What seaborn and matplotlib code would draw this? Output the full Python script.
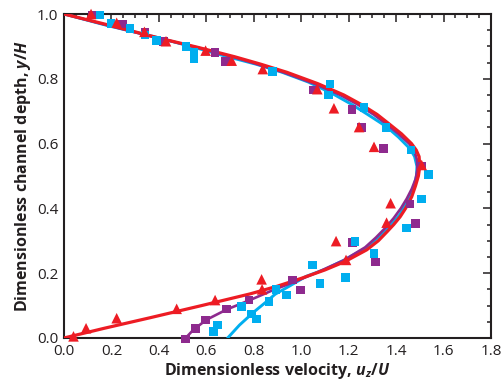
import numpy as np
import pandas as pd
import seaborn as sns
import matplotlib.pyplot as plt
from matplotlib.ticker import MultipleLocator

# measured points (x = u_z/U, y = y/H)
red_x = [0.04, 0.093, 0.222, 0.475, 0.637, 0.833, 0.835, 1.189, 1.147, 1.360, 1.377, 1.508,
         1.307, 1.244, 1.138, 1.068, 0.838, 0.707, 0.597, 0.430, 0.339, 0.222, 0.114]
red_y = [0.005, 0.03, 0.061, 0.09, 0.117, 0.181, 0.150, 0.241, 0.299, 0.356, 0.416, 0.534,
         0.590, 0.651, 0.709, 0.768, 0.830, 0.856, 0.887, 0.916, 0.945, 0.973, 1.0]

purple_x = [0.513, 0.555, 0.597, 0.686, 0.78, 0.964, 0.998, 1.217, 1.314, 1.483, 1.459, 1.508,
            1.346, 1.255, 1.214, 1.051, 0.682, 0.637, 0.419, 0.342, 0.247, 0.119]
purple_y = [-0.003, 0.03, 0.056, 0.089, 0.117, 0.179, 0.148, 0.294, 0.234, 0.354, 0.413, 0.531,
            0.585, 0.649, 0.706, 0.765, 0.853, 0.881, 0.915, 0.945, 0.969, 0.997]

cyan_x = [0.630, 0.648, 0.749, 0.791, 0.812, 0.864, 0.894, 0.939, 1.048, 1.079, 1.186, 1.227,
          1.307, 1.445, 1.508, 1.536, 1.462, 1.358, 1.265, 1.114, 1.121, 0.878, 0.548, 0.548,
          0.514, 0.391, 0.342, 0.278, 0.198, 0.152]
cyan_y = [0.02, 0.04, 0.097, 0.074, 0.058, 0.112, 0.150, 0.133, 0.225, 0.169, 0.186, 0.297,
          0.261, 0.339, 0.429, 0.505, 0.580, 0.649, 0.712, 0.750, 0.784, 0.822, 0.861, 0.881,
          0.899, 0.918, 0.935, 0.956, 0.971, 0.997]

# fitted profiles
red_fit_y = [0.0, 0.03, 0.062, 0.10, 0.136, 0.16, 0.184, 0.21, 0.236, 0.272, 0.30, 0.328, 0.35,
             0.374, 0.40, 0.436, 0.47, 0.50, 0.53, 0.56, 0.58, 0.60, 0.63, 0.66, 0.69, 0.72,
             0.75, 0.785, 0.82, 0.845, 0.868, 0.897, 0.925, 0.962, 1.0]
red_fit_x = [0.0, 0.17, 0.36, 0.58, 0.784, 0.90, 1.0, 1.10, 1.185, 1.276, 1.325, 1.362, 1.39,
             1.417, 1.44, 1.466, 1.482, 1.494, 1.50, 1.497, 1.485, 1.465, 1.423, 1.372, 1.32,
             1.255, 1.18, 1.07, 0.94, 0.83, 0.72, 0.565, 0.405, 0.21, 0.0]

purple_fit_y = [0.0, 0.025, 0.056, 0.088, 0.117, 0.148, 0.17, 0.20, 0.24, 0.28, 0.31, 0.34, 0.37,
                0.40, 0.43, 0.46, 0.49, 0.52, 0.55, 0.58, 0.60, 0.63, 0.66, 0.69, 0.72, 0.75,
                0.785, 0.82, 0.845, 0.868, 0.897, 0.925, 0.962, 1.0]
purple_fit_x = [0.513, 0.545, 0.60, 0.686, 0.784, 0.882, 0.96, 1.06, 1.18, 1.27, 1.315, 1.355,
                1.39, 1.42, 1.445, 1.466, 1.482, 1.49, 1.488, 1.476, 1.455, 1.41, 1.36, 1.305,
                1.24, 1.165, 1.055, 0.925, 0.815, 0.71, 0.56, 0.40, 0.20, 0.0]

cyan_fit_y = [0.0, 0.04, 0.08, 0.11, 0.135, 0.16, 0.19, 0.212, 0.24, 0.277, 0.333, 0.38, 0.44,
              0.47, 0.50, 0.53, 0.56, 0.584, 0.62, 0.652, 0.69, 0.72, 0.755, 0.79, 0.82, 0.845,
              0.87, 0.899, 0.93, 0.965, 1.0]
cyan_fit_x = [0.69, 0.74, 0.80, 0.85, 0.89, 0.95, 1.02, 1.10, 1.18, 1.27, 1.36, 1.415, 1.46,
              1.476, 1.486, 1.488, 1.478, 1.459, 1.41, 1.36, 1.28, 1.215, 1.13, 1.03, 0.92,
              0.81, 0.68, 0.54, 0.38, 0.18, 0.0]

RED = '#ED1C24'
PURPLE = '#8E2A8E'
CYAN = '#00AEEF'
INK = '#231F20'

sns.set_style('white')
plt.rcParams['font.family'] = ['Open Sans', 'DejaVu Sans']
plt.rcParams['mathtext.fontset'] = 'custom'
plt.rcParams['mathtext.it'] = 'Open Sans:bold:italic'
plt.rcParams['mathtext.rm'] = 'Open Sans:bold'

fig = plt.figure(figsize=(5.02, 3.86), dpi=100)
ax = fig.add_axes([0.1275, 0.1244, 0.8505, 0.8393])

for fx, fy, c, lw in [(cyan_fit_x, cyan_fit_y, CYAN, 2.1),
                      (purple_fit_x, purple_fit_y, PURPLE, 1.9),
                      (red_fit_x, red_fit_y, RED, 2.3)]:
    sns.lineplot(x=fx, y=fy, sort=False, estimator=None, color=c, lw=lw, ax=ax, zorder=3,
                 solid_joinstyle='round', solid_capstyle='round')

sns.scatterplot(x=purple_x, y=purple_y, marker='s', s=38, color=PURPLE, edgecolor='none',
                ax=ax, zorder=4, clip_on=False)
sns.scatterplot(x=cyan_x, y=cyan_y, marker='s', s=38, color=CYAN, edgecolor='none',
                ax=ax, zorder=5, clip_on=False)
sns.scatterplot(x=red_x, y=red_y, marker='^', s=58, color=RED, edgecolor='none',
                ax=ax, zorder=6, clip_on=False)

ax.set_xlim(0, 1.8)
ax.set_ylim(0, 1.0)
ax.xaxis.set_major_locator(MultipleLocator(0.2))
ax.xaxis.set_minor_locator(MultipleLocator(0.05))
ax.yaxis.set_major_locator(MultipleLocator(0.2))
ax.yaxis.set_minor_locator(MultipleLocator(0.05))
ax.xaxis.set_major_formatter(plt.FormatStrFormatter('%.1f'))
ax.yaxis.set_major_formatter(plt.FormatStrFormatter('%.1f'))
ax.tick_params(which='both', direction='in', top=True, right=True, color=INK,
               labelsize=11, labelcolor=INK, width=1.1)
ax.tick_params(which='major', length=6, pad=4)
ax.tick_params(which='minor', length=3)
for sp in ax.spines.values():
    sp.set_color(INK)
    sp.set_linewidth(1.5)

ax.set_xlabel(r'Dimensionless velocity, $u_z/U$', fontsize=11.5, fontweight='bold',
              color=INK, labelpad=2)
ax.set_ylabel(r'Dimensionless channel depth, $y/H$', fontsize=11.5, fontweight='bold',
              color=INK, labelpad=3)

fig.savefig('out.png', dpi=100)
